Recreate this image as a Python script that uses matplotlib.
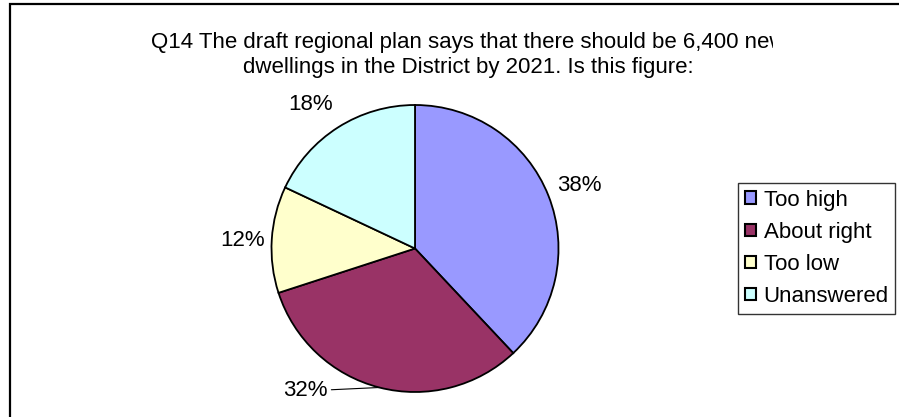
import matplotlib
matplotlib.use("Agg")
import numpy as np
import matplotlib.pyplot as plt
from matplotlib.patches import Rectangle
from matplotlib.transforms import Bbox

plt.rcParams["font.family"] = ["Liberation Sans", "DejaVu Sans"]

# data
categories = ["Too high", "About right", "Too low", "Unanswered"]
shares = [38, 32, 12, 18]
colors = ["#9999FF", "#993366", "#FFFFCC", "#CCFFFF"]
title_lines = ["Q14 The draft regional plan says that there should be 6,400 new",
               "dwellings in the District by 2021. Is this figure:"]

# label placement (pie radius units)
label_pos = [(1.146, 0.439), (-0.767, -0.993), (-1.202, 0.056), (-0.728, 1.0)]

W, H = 899, 417
fig = plt.figure(figsize=(W / 100, H / 100), dpi=100)

# chart area border (runs off right/bottom)
top = 1 - 3.5 / H
fig.patches.append(Rectangle((9.5 / W, -0.2), 2, top + 0.2,
                             transform=fig.transFigure,
                             fill=False, edgecolor="black", lw=1.6))

cx, cy, r = 415, 248.5, 143.5
lim = 1.1
ax = fig.add_axes([(cx - r * lim) / W, (H - cy - r * lim) / H,
                   2 * r * lim / W, 2 * r * lim / H])
wedges, _ = ax.pie(shares, colors=colors, startangle=90, counterclock=False,
                   wedgeprops=dict(edgecolor="black", linewidth=1.3))
ax.set_xlim(-lim, lim)
ax.set_ylim(-lim, lim)
ax.set_aspect("auto")
ax.axis("off")

for w, s, pos in zip(wedges, shares, label_pos):
    mid = np.deg2rad((w.theta1 + w.theta2) / 2)
    edge = (np.cos(mid), np.sin(mid))
    dist = np.hypot(pos[0] - edge[0], pos[1] - edge[1])
    if dist > 0.5:
        # label pulled away from its slice -> leader line
        ax.annotate(f"{s}%", xy=edge, xytext=pos, ha="center", va="center",
                    fontsize=16, annotation_clip=False,
                    arrowprops=dict(arrowstyle="-", lw=0.8, color="black",
                                    shrinkA=1, shrinkB=0))
    else:
        ax.text(pos[0], pos[1], f"{s}%", ha="center", va="center", fontsize=16)

# title, cut off by the plot area on the right as in the original
clip = Bbox([[0, 0], [773, H]])
for line, base in zip(title_lines, [48, 73]):
    t = fig.text(468 / W, 1 - base / H, line, ha="center", va="baseline",
                 fontsize=16)
    t.set_clip_box(clip)
    t.set_clip_on(True)

leg = fig.legend(wedges, categories, loc="upper left",
                 bbox_to_anchor=(738 / W, 1 - 183 / H), fontsize=16,
                 frameon=True, fancybox=False, edgecolor="black",
                 handlelength=0.5, handleheight=0.5, handletextpad=0.35,
                 labelspacing=0.5, borderpad=0.3, borderaxespad=0)
leg.get_frame().set_linewidth(1.0)
for h in leg.legend_handles:
    h.set_linewidth(1.5)

fig.savefig("out.png", dpi=100)
